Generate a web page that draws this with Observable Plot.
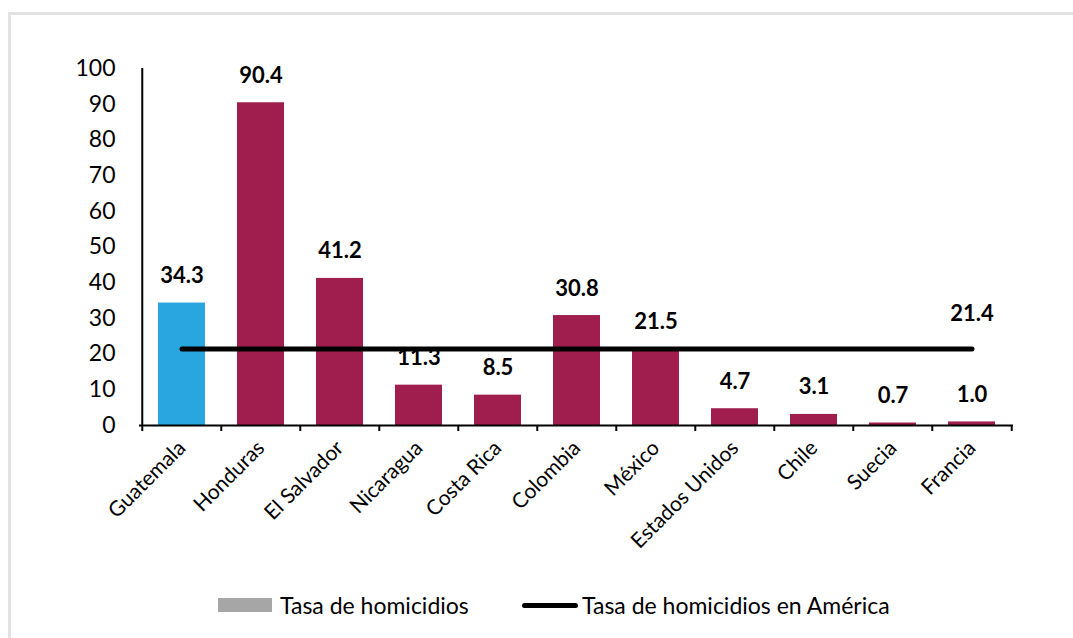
<!DOCTYPE html>
<html>
<head>
<meta charset="utf-8">
<script src="https://cdn.jsdelivr.net/npm/d3@7"></script>
<script src="https://cdn.jsdelivr.net/npm/@observablehq/plot@0.6"></script>
<style>
  html, body { margin: 0; padding: 0; background: #fff; }
  body { width: 1073px; height: 638px; position: relative; overflow: hidden; font-family: Lato, "Noto Sans", sans-serif; }
  #frame { position: absolute; left: 8px; top: 12px; width: 1200px; height: 800px;
           border-left: 3px solid #e2e2e2; border-top: 3px solid #e2e2e2; box-sizing: border-box; }
  #chart { position: absolute; left: 0; top: 0; }
  #legend { position: absolute; left: 0; top: 588px; width: 1073px; height: 34px; font-size: 23px; color: #000; }
  .item { position: absolute; top: 0; height: 34px; display: flex; align-items: center; }
  .swatch-bar { width: 54px; height: 14px; background: #a6a6a6; margin-right: 8px; }
  .swatch-line { width: 56px; height: 5px; background: #000; border-radius: 3px; margin-right: 4px; }
</style>
</head>
<body>
<div id="frame"></div>
<div id="chart"></div>
<div id="legend">
  <div class="item" style="left:218px"><span class="swatch-bar"></span><span>Tasa de homicidios</span></div>
  <div class="item" style="left:522px"><span class="swatch-line"></span><span>Tasa de homicidios en América</span></div>
</div>
<script>
// Homicide rates per 100,000 inhabitants
const countries = ["Guatemala", "Honduras", "El Salvador", "Nicaragua", "Costa Rica", "Colombia",
                   "México", "Estados Unidos", "Chile", "Suecia", "Francia"];
const rates = [34.3, 90.4, 41.2, 11.3, 8.5, 30.8, 21.5, 4.7, 3.1, 0.7, 1.0];
// Regional average for the Americas, drawn as a flat reference line
const americaRate = [21.4, 21.4, 21.4, 21.4, 21.4, 21.4, 21.4, 21.4, 21.4, 21.4, 21.4];
const yTicks = [0, 10, 20, 30, 40, 50, 60, 70, 80, 90, 100];

const highlight = "Guatemala";
const blue = "#29a5df";
const maroon = "#a01e4d";

const rows = countries.map((country, i) => ({country, rate: rates[i], america: americaRate[i]}));
const last = rows[rows.length - 1];

const W = 1073, H = 580, ML = 139, MR = 60, MT = 68, MB = 155;
const step = (W - ML - MR) / countries.length;

const chart = Plot.plot({
  width: W,
  height: H,
  marginLeft: ML,
  marginRight: MR,
  marginTop: MT,
  marginBottom: MB,
  style: {fontFamily: "Lato, 'Noto Sans', sans-serif", color: "#000", background: "transparent"},
  x: {domain: countries, paddingInner: 0.41, paddingOuter: 0.205},
  y: {domain: [0, 100]},
  color: {type: "identity"},
  marks: [
    Plot.barY(rows, {x: "country", y: "rate", fill: d => d.country === highlight ? blue : maroon}),
    Plot.lineY(rows, {x: "country", y: "america", stroke: "#000", strokeWidth: 5, strokeLinecap: "round"}),
    Plot.text(rows, {x: "country", y: "rate", text: d => d.rate.toFixed(1), dy: -27,
                     fontWeight: "bold", fontSize: 22, fill: "#000"}),
    Plot.text([last], {x: "country", y: "america", text: d => d.america.toFixed(1), dy: -35,
                       fontWeight: "bold", fontSize: 22, fill: "#000"}),
    // axis lines
    Plot.ruleY([0], {stroke: "#000", strokeWidth: 2}),
    Plot.ruleX([countries[0]], {y1: 0, y2: 100, dx: -step / 2, stroke: "#000", strokeWidth: 2}),
    Plot.axisY({ticks: yTicks, tickSize: 0, tickPadding: 24, fontSize: 23, label: null}),
    // category boundary ticks below the baseline
    Plot.axisX({tickSize: 6, tickFormat: () => "", dx: -step / 2, strokeWidth: 2, label: null}),
    Plot.axisX({ticks: [countries[countries.length - 1]], tickSize: 6, tickFormat: () => "",
                dx: step / 2, strokeWidth: 2, label: null}),
    Plot.axisX({tickSize: 0, tickRotate: -45, tickPadding: 19, fontSize: 21, label: null})
  ]
});
document.getElementById("chart").appendChild(chart);
</script>
</body>
</html>
